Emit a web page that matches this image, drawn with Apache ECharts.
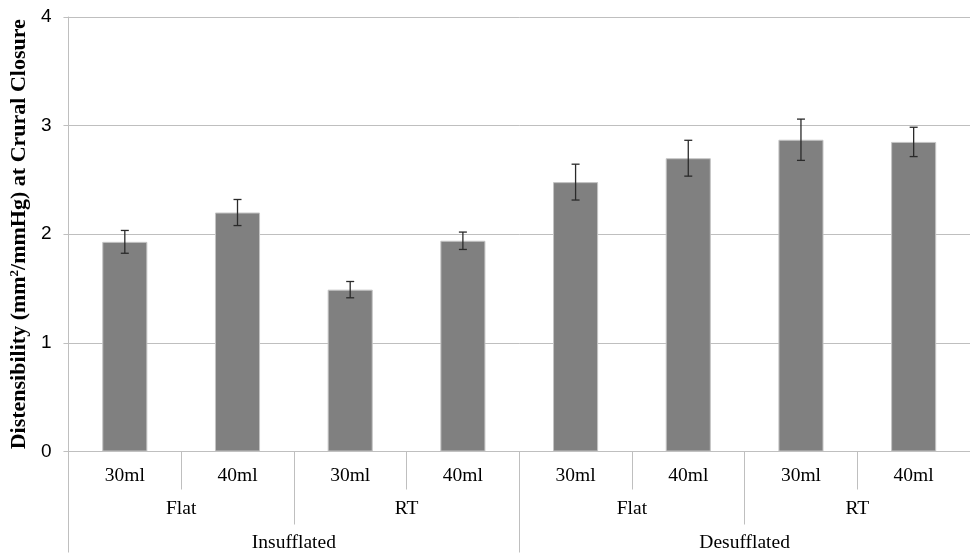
<!DOCTYPE html>
<html>
<head>
<meta charset="utf-8">
<script src="https://cdn.jsdelivr.net/npm/echarts@6/dist/echarts.min.js"></script>
<style>html,body{margin:0;padding:0;background:#fff}#c{width:970px;height:553px}</style>
</head>
<body>
<div id="c"></div>
<script>
var volumes = ['30ml','40ml','30ml','40ml','30ml','40ml','30ml','40ml'];
var positions = ['Flat','RT','Flat','RT'];
var states = ['Insufflated','Desufflated'];
var values = [1.93, 2.20, 1.49, 1.94, 2.48, 2.70, 2.87, 2.85];
var errors = [0.105, 0.12, 0.075, 0.08, 0.165, 0.165, 0.19, 0.135];
var yTicks = [0, 1, 2, 3, 4];

var serif = 'Liberation Serif, Times New Roman, serif';
var sans = 'Liberation Sans, Arial, sans-serif';
var lineCol = '#bfbfbf';

var errData = values.map(function (v, i) { return [i, v - errors[i], v + errors[i]]; });

var chart = echarts.init(document.getElementById('c'));
chart.setOption({
  animation: false,
  backgroundColor: '#fff',
  grid: { left: 67, right: 0, top: 17, bottom: 101, containLabel: false },
  xAxis: [
    {
      type: 'category', data: volumes, position: 'bottom', boundaryGap: true,
      axisLine: { show: true, lineStyle: { color: lineCol, width: 1 } },
      axisTick: { show: true, interval: 0, length: 38, lineStyle: { color: lineCol } },
      axisLabel: { interval: 0, margin: 14, fontFamily: serif, fontSize: 19.5, color: '#000' }
    },
    {
      type: 'category', data: positions, position: 'bottom', boundaryGap: true,
      axisLine: { show: false },
      axisTick: { show: true, interval: 0, length: 73, lineStyle: { color: lineCol } },
      axisLabel: { interval: 0, margin: 47.5, fontFamily: serif, fontSize: 19.5, color: '#000' }
    },
    {
      type: 'category', data: states, position: 'bottom', boundaryGap: true,
      axisLine: { show: false },
      axisTick: { show: true, interval: 0, length: 101, lineStyle: { color: lineCol } },
      axisLabel: { interval: 0, margin: 81.5, fontFamily: serif, fontSize: 19.5, color: '#000' }
    }
  ],
  yAxis: {
    type: 'value', min: yTicks[0], max: yTicks[yTicks.length - 1], interval: 1,
    axisLine: { show: true, lineStyle: { color: lineCol } },
    axisTick: { show: true, length: 5, lineStyle: { color: lineCol } },
    splitLine: { show: true, lineStyle: { color: lineCol, width: 1 } },
    axisLabel: { margin: 17, fontFamily: sans, fontSize: 19, color: '#000' },
    name: '{b|Distensibility (mm}{s|2}{b|/mmHg) at Crural Closure}',
    nameLocation: 'middle', nameGap: 26, nameRotate: 90,
    nameTextStyle: {
      rich: {
        b: { fontFamily: serif, fontWeight: 'bold', fontSize: 22, color: '#000' },
        s: { fontFamily: serif, fontWeight: 'bold', fontSize: 13, color: '#000', verticalAlign: 'top', padding: [0, 0, 8, 0] }
      }
    }
  },
  series: [
    {
      type: 'bar', xAxisIndex: 0, yAxisIndex: 0, data: values, barWidth: '40%',
      itemStyle: { color: '#808080', borderColor: '#c4c4c4', borderWidth: 1 }
    },
    {
      type: 'custom', xAxisIndex: 0, yAxisIndex: 0, data: errData, z: 10,
      renderItem: function (params, api) {
        var x = api.value(0);
        var lo = api.coord([x, api.value(1)]);
        var hi = api.coord([x, api.value(2)]);
        var w = 4;
        var st = { stroke: '#2a2a2a', lineWidth: 1.3 };
        return {
          type: 'group',
          children: [
            { type: 'line', shape: { x1: hi[0], y1: hi[1], x2: lo[0], y2: lo[1] }, style: st },
            { type: 'line', shape: { x1: hi[0] - w, y1: hi[1], x2: hi[0] + w, y2: hi[1] }, style: st },
            { type: 'line', shape: { x1: lo[0] - w, y1: lo[1], x2: lo[0] + w, y2: lo[1] }, style: st }
          ]
        };
      }
    }
  ]
});
</script>
</body>
</html>
